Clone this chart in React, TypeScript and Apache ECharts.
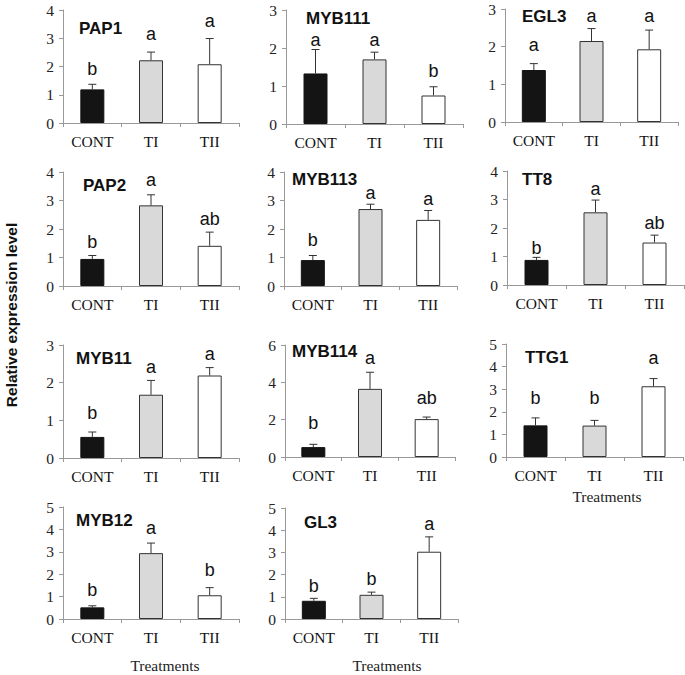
import React, { useEffect, useRef } from "react";
import * as echarts from "echarts";

const categories = ["CONT", "TI", "TII"];
const genes = ["PAP1", "MYB111", "EGL3", "PAP2", "MYB113", "TT8", "MYB11", "MYB114", "TTG1", "MYB12", "GL3"];
const means = [
  [1.19, 2.22, 2.08],
  [1.33, 1.7, 0.75],
  [1.38, 2.15, 1.93],
  [0.95, 2.83, 1.41],
  [0.91, 2.7, 2.32],
  [0.88, 2.55, 1.49],
  [0.56, 1.68, 2.19],
  [0.53, 3.65, 2.03],
  [1.4, 1.39, 3.13],
  [0.52, 2.94, 1.06],
  [0.82, 1.09, 3.03],
];
const errors = [
  [0.18, 0.29, 0.91],
  [0.63, 0.19, 0.23],
  [0.17, 0.33, 0.51],
  [0.12, 0.37, 0.48],
  [0.16, 0.17, 0.33],
  [0.09, 0.43, 0.26],
  [0.13, 0.38, 0.21],
  [0.15, 0.89, 0.11],
  [0.33, 0.23, 0.34],
  [0.07, 0.45, 0.34],
  [0.11, 0.12, 0.67],
];
const letters = [
  ["b", "a", "a"],
  ["a", "a", "b"],
  ["a", "a", "a"],
  ["b", "a", "ab"],
  ["b", "a", "a"],
  ["b", "a", "ab"],
  ["b", "a", "a"],
  ["b", "a", "ab"],
  ["b", "b", "a"],
  ["b", "a", "b"],
  ["b", "b", "a"],
];
const letterLevels = [
  [1.92, 3.16, 3.61],
  [2.21, 2.21, 1.39],
  [2.04, 2.81, 2.81],
  [1.56, 3.71, 2.35],
  [1.62, 3.26, 3.05],
  [1.29, 3.36, 2.19],
  [1.19, 2.41, 2.76],
  [1.81, 5.28, 3.15],
  [2.61, 2.61, 4.38],
  [1.31, 4.06, 2.17],
  [1.49, 1.79, 4.27],
];
const yMax = [4, 3, 3, 4, 4, 4, 3, 6, 5, 5, 5];
const yStep = [1, 1, 1, 1, 1, 1, 1, 2, 1, 1, 1];
const yTitle = "Relative expression level";
const xTitle = "Treatments";

// layout (pixels)
const grids = [
  { left: 63, top: 10, width: 176, height: 113 },
  { left: 286, top: 10, width: 177, height: 114 },
  { left: 505, top: 9, width: 173, height: 113 },
  { left: 63, top: 172, width: 176, height: 114 },
  { left: 284, top: 172, width: 173, height: 114 },
  { left: 507, top: 171, width: 177, height: 114 },
  { left: 63, top: 345, width: 176, height: 113 },
  { left: 285, top: 345, width: 170, height: 112 },
  { left: 506, top: 344, width: 177, height: 113 },
  { left: 63, top: 507, width: 176, height: 112 },
  { left: 285, top: 508, width: 173, height: 111 },
];
const titlePos = [
  [79, 28], [306, 18], [522, 16], [83, 185], [292, 179], [522, 179],
  [76, 358], [292, 351], [525, 357], [76, 520], [304, 522],
];
const xTitlePos = [[165, 665], [387, 665], [607, 496]];

const SERIF = "'Liberation Serif', 'Times New Roman', serif";
const SANS = "'Liberation Sans', Arial, sans-serif";
const barColors = [
  { color: "#141414", borderColor: "#141414" },
  { color: "#d9d9d9", borderColor: "#333333" },
  { color: "#ffffff", borderColor: "#333333" },
];

export default function App() {
  const ref = useRef<HTMLDivElement>(null);
  useEffect(() => {
    document.body.style.margin = "0";
    if (!ref.current) return;
    const chart = echarts.init(ref.current, null, { renderer: "svg" });
    const series: any[] = [];
    genes.forEach((g, i) => {
      series.push({
        type: "bar",
        xAxisIndex: i,
        yAxisIndex: i,
        barWidth: 24,
        data: means[i].map((v, k) => ({
          value: v,
          itemStyle: { color: barColors[k].color, borderColor: barColors[k].borderColor, borderWidth: 1 },
        })),
        z: 2,
      });
      series.push({
        type: "custom",
        xAxisIndex: i,
        yAxisIndex: i,
        z: 3,
        data: means[i].map((v, k) => [k, v, v + errors[i][k]]),
        renderItem: (params: any, api: any) => {
          const p0 = api.coord([api.value(0), api.value(1)]);
          const p1 = api.coord([api.value(0), api.value(2)]);
          const st = { stroke: "#333", lineWidth: 1 };
          return {
            type: "group",
            children: [
              { type: "line", shape: { x1: p0[0], y1: p0[1], x2: p1[0], y2: p1[1] }, style: st },
              { type: "line", shape: { x1: p1[0] - 4, y1: p1[1], x2: p1[0] + 4, y2: p1[1] }, style: st },
            ],
          };
        },
      });
      series.push({
        type: "custom",
        xAxisIndex: i,
        yAxisIndex: i,
        z: 4,
        data: letterLevels[i].map((v, k) => [k, v, letters[i][k]]),
        renderItem: (params: any, api: any) => {
          const p = api.coord([api.value(0), api.value(1)]);
          const t = letters[i][params.dataIndex];
          return {
            type: "text",
            x: p[0],
            y: p[1],
            style: {
              text: t,
              fontSize: 18,
              fontFamily: SANS,
              fill: "#111",
              align: "center",
              verticalAlign: "middle",
            },
          };
        },
      });
    });
    const graphic: any[] = [];
    genes.forEach((g, i) => {
      graphic.push({
        type: "text",
        x: titlePos[i][0],
        y: titlePos[i][1],
        style: {
          text: g,
          fontSize: 17,
          fontWeight: "bold",
          fontFamily: SANS,
          fill: "#111",
          align: "left",
          verticalAlign: "middle",
        },
      });
    });
    xTitlePos.forEach((p) => {
      graphic.push({
        type: "text",
        x: p[0],
        y: p[1],
        style: {
          text: xTitle,
          fontSize: 15.5,
          fontFamily: SERIF,
          fill: "#222",
          align: "center",
          verticalAlign: "middle",
        },
      });
    });
    graphic.push({
      type: "text",
      x: 11,
      y: 315,
      rotation: Math.PI / 2,
      style: {
        text: yTitle,
        fontSize: 15.5,
        fontWeight: "bold",
        fontFamily: SANS,
        fill: "#111",
        align: "center",
        verticalAlign: "middle",
      },
    });
    const option: any = {
      animation: false,
      backgroundColor: "#ffffff",
      grid: grids.map((g) => ({ ...g, containLabel: false })),
      xAxis: genes.map((g, i) => ({
        type: "category",
        gridIndex: i,
        data: categories,
        axisLine: { show: true, lineStyle: { color: "#999", width: 1 } },
        axisTick: { show: true, length: 4, lineStyle: { color: "#999" } },
        axisLabel: { fontSize: 15.5, fontFamily: SERIF, color: "#111", margin: 10 },
        splitLine: { show: false },
      })),
      yAxis: genes.map((g, i) => ({
        type: "value",
        gridIndex: i,
        min: 0,
        max: yMax[i],
        interval: yStep[i],
        axisLine: { show: true, lineStyle: { color: "#999", width: 1 } },
        axisTick: { show: true, length: 4, lineStyle: { color: "#999" } },
        axisLabel: { fontSize: 15.5, fontFamily: SERIF, color: "#222", margin: 9 },
        splitLine: { show: false },
      })),
      series,
      graphic,
    };
    chart.setOption(option);
    return () => chart.dispose();
  }, []);
  return <div ref={ref} style={{ width: 685, height: 675 }} />;
}
